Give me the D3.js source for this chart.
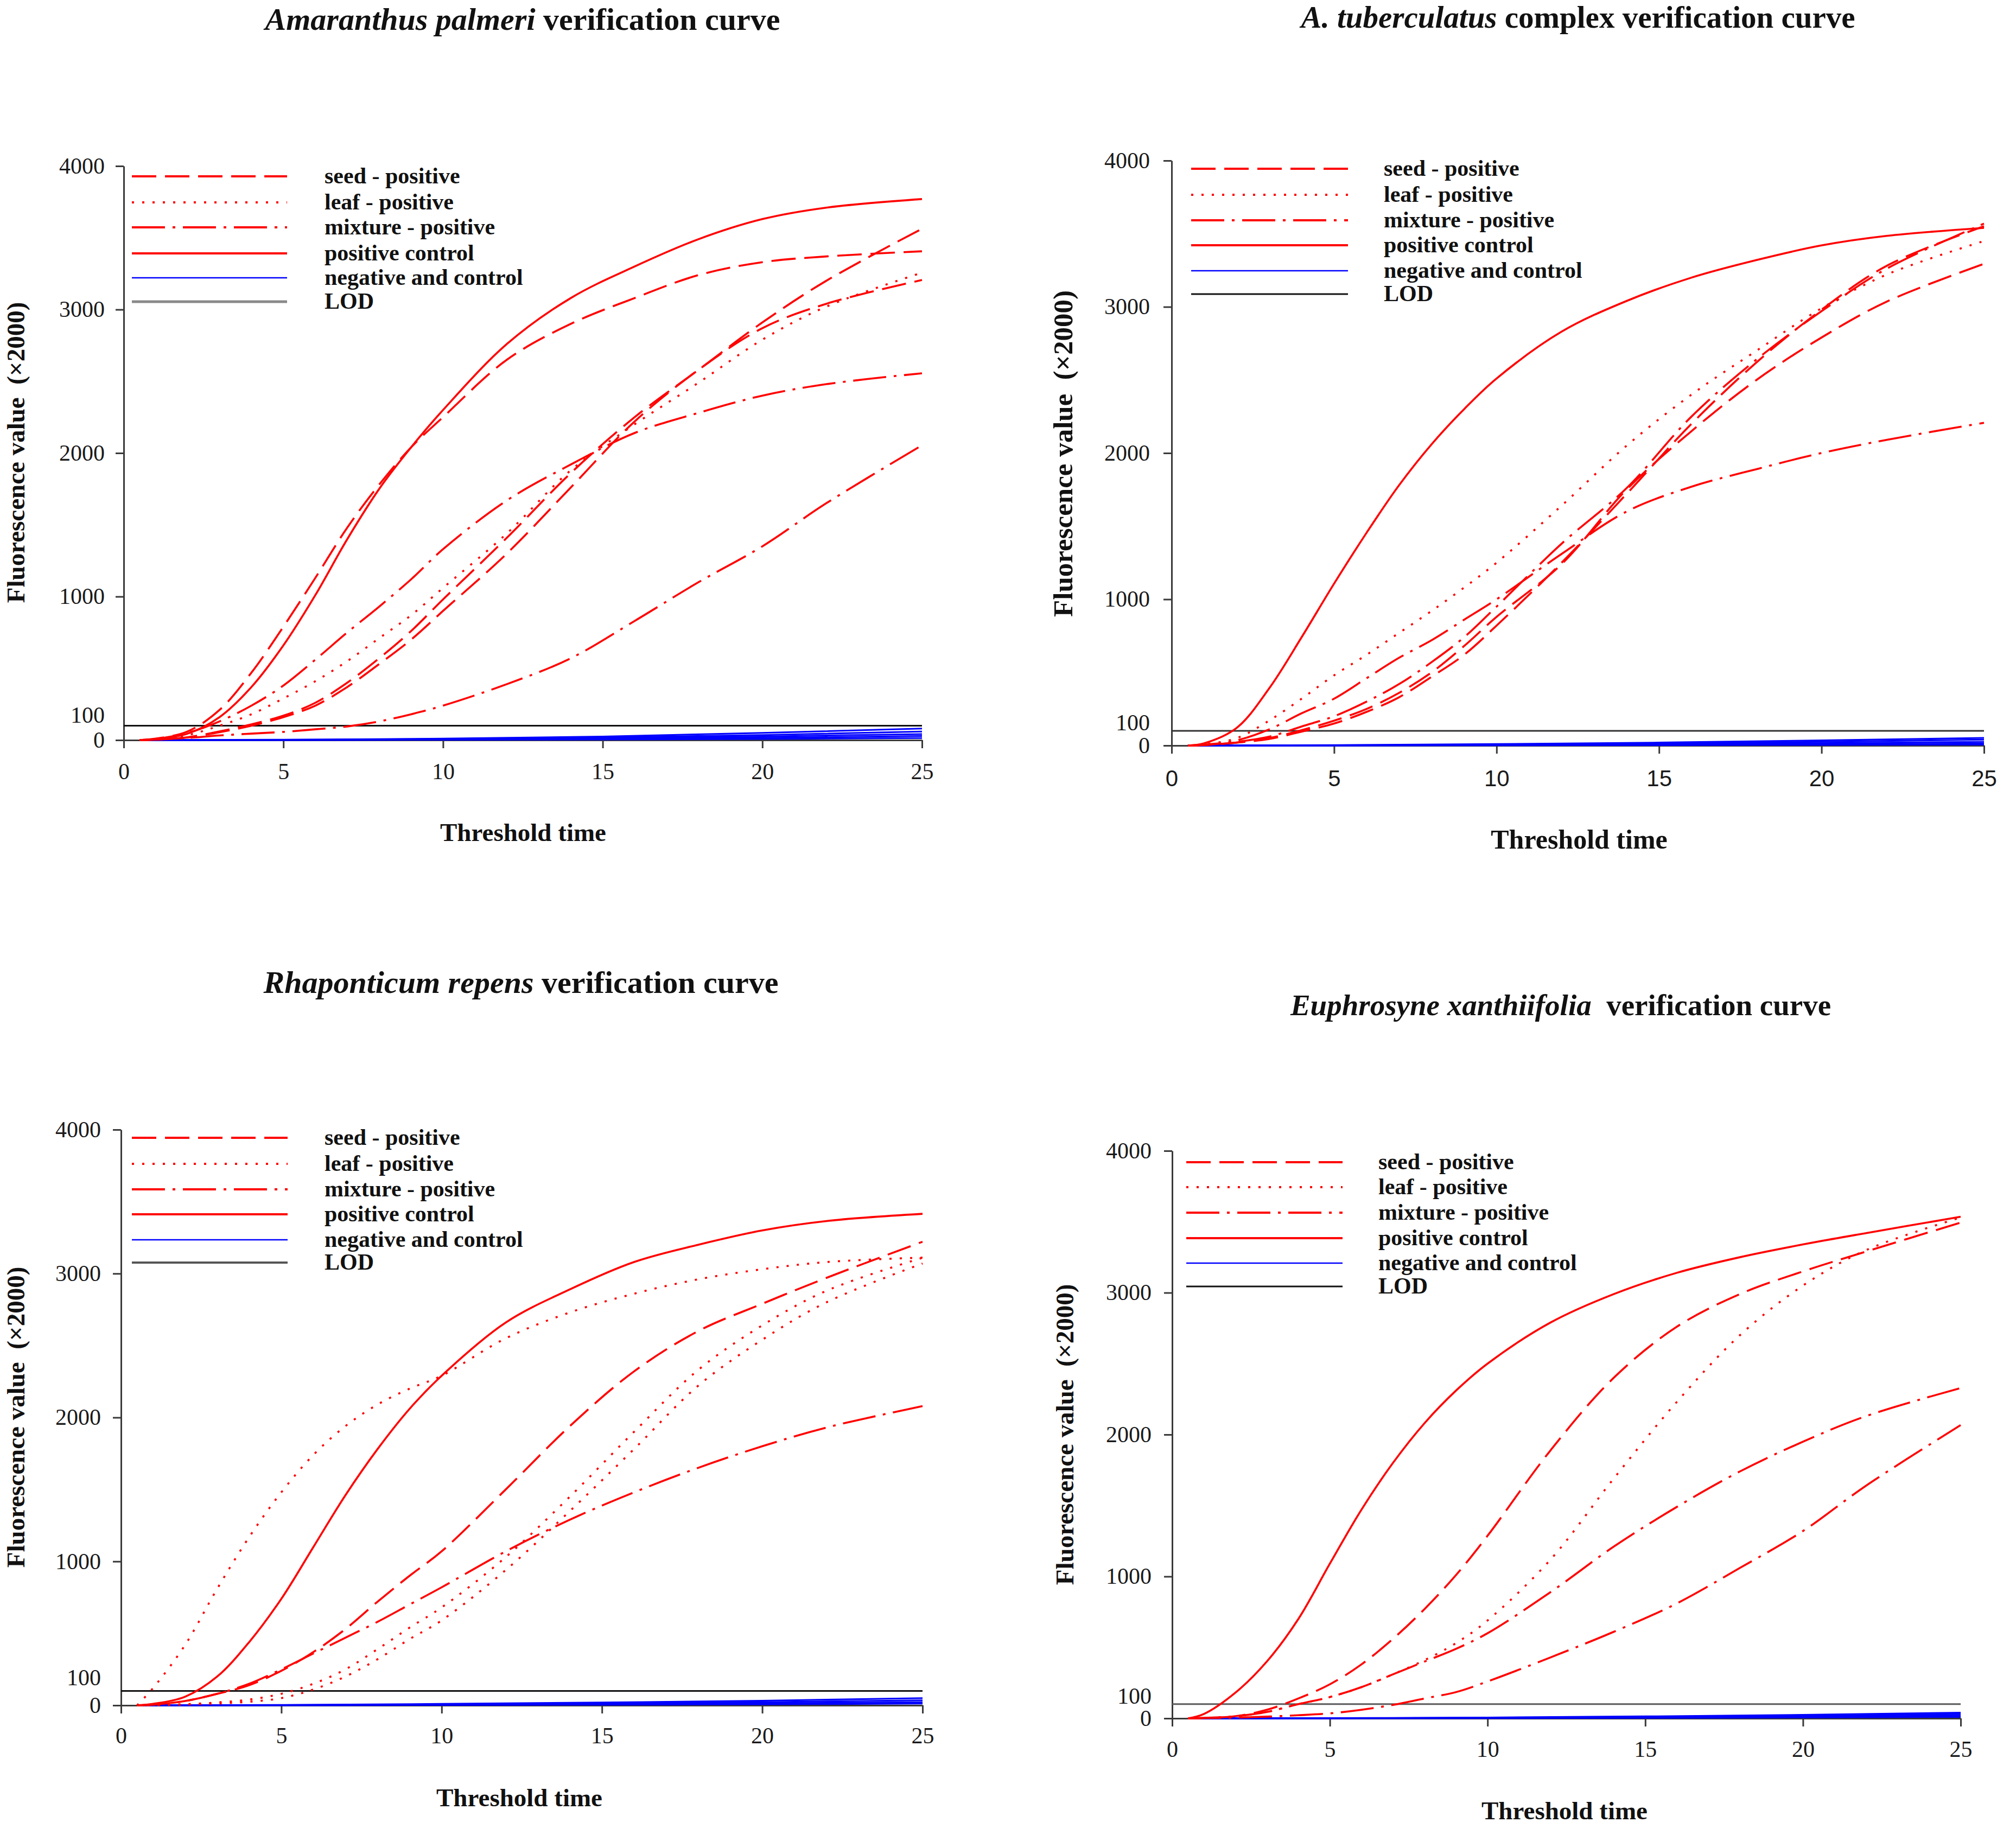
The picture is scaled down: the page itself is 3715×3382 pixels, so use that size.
<!DOCTYPE html>
<html><head><meta charset="utf-8">
<script src="https://cdn.jsdelivr.net/npm/d3@7"></script>
<style>html,body{margin:0;padding:0;background:#fff}</style>
</head><body>
<svg id="chart" width="3715" height="3382" xmlns="http://www.w3.org/2000/svg"></svg>
<script>
// ---------- shared values ----------
const tGrid = [0.5,1,2,3,4,5,6,7,8,9,10,12,14,16,18,20,22,25];
const tNeg  = [0.5,5,10,15,20,25];
const xTicks = [0,5,10,15,20,25];
const yTicks = [0,100,1000,2000,3000,4000];
const lodValue = 100;
const xDomain = [0,25];
const yDomain = [0,4000];
const legendLabels = ["seed - positive","leaf - positive","mixture - positive","positive control","negative and control","LOD"];
const xTitle = "Threshold time";
const yTitle = "Fluorescence value  (\u00d72000)";

// ---------- Panel 1: Amaranthus palmeri ----------
const p1Positive = [0,6,45,160,370,660,1010,1400,1750,2040,2300,2760,3080,3300,3490,3630,3710,3770];
const p1Seed = [
  [0,10,60,210,470,790,1130,1480,1780,2040,2250,2650,2900,3080,3240,3330,3370,3406],
  [0,4,20,60,110,170,260,400,570,760,980,1410,1860,2250,2580,2910,3200,3563],
  [0,4,18,55,100,160,240,370,530,700,900,1300,1760,2220,2580,2870,3040,3206]
];
const p1Leaf = [
  [0,5,35,100,180,290,410,550,710,870,1060,1440,1880,2200,2490,2790,3020,3257]
];
const p1Mix = [
  [0,8,50,130,240,380,560,750,930,1120,1330,1670,1920,2140,2280,2400,2480,2556],
  [0,3,15,32,45,57,75,95,130,180,240,390,570,830,1100,1350,1650,2054]
];
const p1Neg = [[0,3,10,25,50,80],[0,2,8,18,35,60],[0,1,5,12,25,42],[0,1,3,8,15,28],[0,0,2,4,8,14]];

// ---------- Panel 2: A. tuberculatus complex ----------
const p2Positive = [0,15,120,390,740,1107,1455,1780,2060,2300,2510,2830,3040,3200,3320,3420,3485,3540];
const p2Seed = [
  [0,4,20,50,105,170,250,360,500,680,880,1240,1750,2150,2500,2790,3035,3294],
  [0,3,20,45,95,150,230,330,470,620,820,1250,1720,2200,2620,2980,3280,3551]
];
const p2Leaf = [
  [0,8,50,170,320,480,620,770,920,1080,1250,1640,2050,2400,2700,2990,3220,3450]
];
const p2Mix = [
  [0,5,35,110,220,320,460,600,720,860,1000,1310,1600,1770,1890,2000,2090,2207],
  [0,4,25,60,130,200,300,420,570,740,950,1380,1760,2250,2640,2970,3260,3569]
];
const p2Neg = [[0,3,10,20,35,52],[0,2,6,14,25,40],[0,1,4,9,16,25],[0,0,2,5,9,14],[0,0,1,2,4,6]];

// ---------- Panel 3: Rhaponticum repens ----------
const p3Positive = [0,10,60,200,440,740,1100,1460,1780,2060,2290,2660,2890,3080,3200,3300,3365,3415];
const p3Seed = [
  [0,5,30,80,140,240,370,530,720,900,1070,1500,1940,2320,2600,2790,2970,3221]
];
const p3Leaf = [
  [0,120,420,810,1170,1480,1740,1940,2090,2200,2290,2550,2730,2860,2960,3030,3080,3111],
  [0,2,8,20,40,80,150,250,390,540,680,1030,1450,1900,2330,2640,2880,3110],
  [0,1,5,12,25,50,110,200,320,460,590,940,1350,1780,2220,2540,2800,3070]
];
const p3Mix = [
  [0,5,30,80,150,250,360,470,580,700,820,1070,1290,1480,1650,1800,1930,2079]
];
const p3Neg = [[0,3,10,20,32,50],[0,2,6,13,22,35],[0,1,4,8,14,22],[0,0,2,4,7,12]];

// ---------- Panel 4: Euphrosyne xanthiifolia ----------
const p4Positive = [0,30,180,400,700,1090,1470,1800,2080,2310,2500,2790,2990,3140,3250,3340,3420,3535];
const p4Seed = [
  [0,3,15,60,140,240,380,560,770,1010,1287,1890,2400,2760,2990,3150,3290,3494]
];
const p4Leaf = [
  [0,3,15,45,100,150,220,310,410,530,690,1120,1690,2230,2700,3050,3300,3530]
];
const p4Mix = [
  [0,3,15,45,100,150,220,310,400,490,600,890,1210,1490,1740,1950,2130,2328],
  [0,2,5,12,22,35,60,95,140,185,260,430,610,810,1060,1320,1640,2067]
];
const p4Neg = [[0,2,6,14,25,40],[0,1,4,10,18,30],[0,1,3,6,12,20],[0,0,1,3,6,10]];

// ---------- styles & layout ----------
const serif = "'Liberation Serif','Times New Roman',Times,serif";
const sans = "'Liberation Sans',Arial,Helvetica,sans-serif";
const RED = "#ff0000", BLUE = "#0000ff";
const dashes = {seed:"45,16", leaf:"4,15", mix:"61,14,5,14", pos:null};

const panels = [
  {italic:"Amaranthus palmeri", rest:" verification curve",
   positive:p1Positive, seed:p1Seed, leaf:p1Leaf, mix:p1Mix, neg:p1Neg,
   L:{x0:228,x1:1699,y0:1364,y1:306, xPad:27, yPad:20, xFont:serif, lab100:46,
      titleX:963, titleY:55, titleSize:58,
      xtX:964, xtY:1550, xtSize:47, ytX:45, ytY:834, ytSize:47,
      legX0:243, legX1:529, legText:598, legRows:[325,373,419,467,512,556],
      lodColor:"#111", lodLegColor:"#8a8a8a", lodLegW:5}},
  {italic:"A. tuberculatus", rest:" complex verification curve",
   positive:p2Positive, seed:p2Seed, leaf:p2Leaf, mix:p2Mix, neg:p2Neg,
   L:{x0:2159,x1:3656,y0:1374,y1:296, xPad:30, yPad:25, xFont:sans, lab100:42,
      titleX:2908, titleY:51, titleSize:57,
      xtX:2910, xtY:1564, xtSize:50, ytX:1976, ytY:836, ytSize:51,
      legX0:2195, legX1:2484, legText:2550, legRows:[311,359,406,452,499,542],
      lodColor:"#333", lodLegColor:"#111", lodLegW:3}},
  {italic:"Rhaponticum repens", rest:" verification curve",
   positive:p3Positive, seed:p3Seed, leaf:p3Leaf, mix:p3Mix, neg:p3Neg,
   L:{x0:223,x1:1700,y0:3143,y1:2082, xPad:25, yPad:22, xFont:serif, lab100:51,
      titleX:960, titleY:1830, titleSize:58,
      xtX:957, xtY:3329, xtSize:47, ytX:45, ytY:2612, ytSize:47,
      legX0:243, legX1:530, legText:598, legRows:[2097,2145,2192,2238,2285,2327],
      lodColor:"#111", lodLegColor:"#555", lodLegW:4}},
  {italic:"Euphrosyne xanthiifolia", rest:"  verification curve",
   positive:p4Positive, seed:p4Seed, leaf:p4Leaf, mix:p4Mix, neg:p4Neg,
   L:{x0:2160,x1:3613,y0:3167,y1:2121, xPad:26, yPad:23, xFont:serif, lab100:41,
      titleX:2876, titleY:1871, titleSize:55,
      xtX:2883, xtY:3353, xtSize:47, ytX:1978, ytY:2644, ytSize:47,
      legX0:2186, legX1:2474, legText:2540, legRows:[2142,2188,2235,2282,2328,2371],
      lodColor:"#5a5a5a", lodLegColor:"#111", lodLegW:3}}
];

const svg = d3.select("#chart");
svg.append("rect").attr("width",3715).attr("height",3382).attr("fill","#fff");

function drawPanel(p){
  const L = p.L;
  const g = svg.append("g");
  const x = d3.scaleLinear().domain(xDomain).range([L.x0, L.x1]);
  const y = d3.scaleLinear().domain(yDomain).range([L.y0, L.y1]);

  // axes
  const gx = g.append("g").attr("transform",`translate(0,${L.y0})`)
    .call(d3.axisBottom(x).tickValues(xTicks).tickSize(15).tickSizeOuter(0).tickPadding(L.xPad).tickFormat(d3.format("d")));
  gx.attr("font-family", L.xFont).attr("font-size", 42).attr("color","#3a3a3a");
  gx.selectAll("path,line").attr("stroke-width",3);
  gx.selectAll("text").attr("fill","#1a1a1a");

  const gy = g.append("g").attr("transform",`translate(${L.x0},0)`)
    .call(d3.axisLeft(y).tickValues(yTicks).tickSize(15).tickSizeOuter(0).tickPadding(L.yPad).tickFormat(d3.format("d")));
  gy.attr("font-family", serif).attr("font-size", 42).attr("color","#3a3a3a");
  gy.selectAll("path,line").attr("stroke-width",3);
  gy.selectAll("text").attr("fill","#1a1a1a");
  gy.selectAll(".tick").filter(d => d === lodValue).each(function(){
    d3.select(this).select("line").remove();
    d3.select(this).select("text").attr("y", (L.y0 - L.lab100) - y(lodValue));
  });

  // LOD line
  g.append("line").attr("x1", x(xDomain[0])).attr("x2", x(xDomain[1]))
    .attr("y1", y(lodValue)).attr("y2", y(lodValue))
    .attr("stroke", L.lodColor).attr("stroke-width", 3);

  // negative lines
  const negLine = d3.line().x((d,i)=>x(tNeg[i])).y(d=>y(d)).curve(d3.curveMonotoneX);
  p.neg.forEach(s => g.append("path").attr("d", negLine(s)).attr("fill","none")
    .attr("stroke", BLUE).attr("stroke-width", 3));

  // red curves
  const line = d3.line().x((d,i)=>x(tGrid[i])).y(d=>Math.min(y(d), L.y0)).curve(d3.curveCatmullRom.alpha(0.5));
  const drawRed = (s, dash) => {
    const path = g.append("path").attr("d", line(s)).attr("fill","none")
      .attr("stroke", RED).attr("stroke-width", 3.6);
    if (dash) path.attr("stroke-dasharray", dash);
  };
  p.mix.forEach(s => drawRed(s, dashes.mix));
  p.leaf.forEach(s => drawRed(s, dashes.leaf));
  p.seed.forEach(s => drawRed(s, dashes.seed));
  drawRed(p.positive, dashes.pos);

  // legend
  const legStyles = [
    {c:RED, w:4, d:dashes.seed},
    {c:RED, w:4, d:dashes.leaf},
    {c:RED, w:4, d:dashes.mix},
    {c:RED, w:4, d:null},
    {c:BLUE, w:2.5, d:null},
    {c:L.lodLegColor, w:L.lodLegW, d:null}
  ];
  legendLabels.forEach((lab,i) => {
    const ry = L.legRows[i];
    const ln = g.append("line").attr("x1",L.legX0).attr("x2",L.legX1).attr("y1",ry).attr("y2",ry)
      .attr("stroke",legStyles[i].c).attr("stroke-width",legStyles[i].w);
    if (legStyles[i].d) ln.attr("stroke-dasharray", legStyles[i].d);
    g.append("text").attr("x",L.legText).attr("y",ry+13)
      .attr("font-family",serif).attr("font-size",42).attr("font-weight","bold")
      .attr("fill","#111").text(lab);
  });

  // title
  const t = g.append("text").attr("x",L.titleX).attr("y",L.titleY).attr("text-anchor","middle")
    .attr("font-family",serif).attr("font-size",L.titleSize).attr("font-weight","bold").attr("fill","#111")
    .attr("xml:space","preserve").style("white-space","pre");
  t.append("tspan").attr("font-style","italic").text(p.italic);
  t.append("tspan").text(p.rest);

  // axis titles
  g.append("text").attr("x",L.xtX).attr("y",L.xtY).attr("text-anchor","middle")
    .attr("font-family",serif).attr("font-size",L.xtSize).attr("font-weight","bold").attr("fill","#111")
    .text(xTitle);
  g.append("text").attr("transform",`translate(${L.ytX},${L.ytY}) rotate(-90)`).attr("text-anchor","middle")
    .attr("font-family",serif).attr("font-size",L.ytSize).attr("font-weight","bold").attr("fill","#111")
    .style("white-space","pre").text(yTitle);
}

panels.forEach(drawPanel);
</script>
</body></html>
